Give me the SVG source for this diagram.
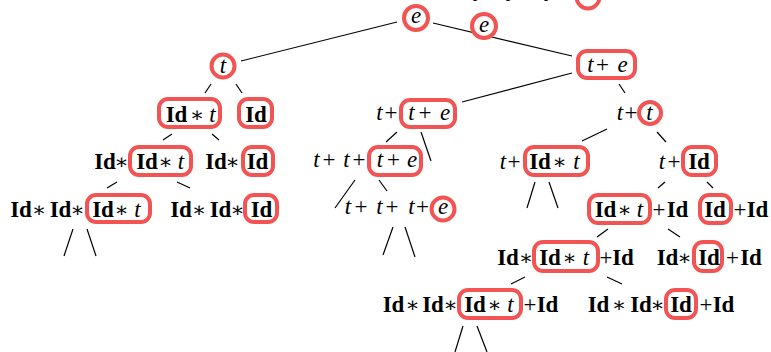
<svg xmlns="http://www.w3.org/2000/svg" width="771" height="352" viewBox="0 0 771 352">
<style>
.bg{fill:#ffffff}
.hl{fill:#ffffff;stroke:#f25454;stroke-width:4}
.lbl{font-family:"Liberation Serif","DejaVu Serif",serif;font-size:23px;text-anchor:middle;fill:#000}
.b{font-weight:bold}
.i{font-style:italic}
.op{font-family:"DejaVu Serif","Liberation Serif",serif;font-size:21px}
#connectors line{stroke:#000;stroke-width:1.2;fill:none}
</style>
<rect class="bg" x="0" y="0" width="771" height="352"/>
<g id="connectors">
<line x1="241" y1="61" x2="397" y2="22"/>
<line x1="433" y1="23" x2="572" y2="56"/>
<line x1="572" y1="73" x2="462" y2="102"/>
<line x1="619" y1="84" x2="625" y2="93"/>
<line x1="205" y1="93" x2="211" y2="84"/>
<line x1="236" y1="84" x2="242" y2="93"/>
<line x1="163" y1="140" x2="172" y2="134"/>
<line x1="212" y1="134" x2="219" y2="140"/>
<line x1="397" y1="132" x2="386" y2="142"/>
<line x1="421" y1="132" x2="431" y2="161"/>
<line x1="607" y1="129" x2="582" y2="141"/>
<line x1="657" y1="132" x2="666" y2="142"/>
<line x1="107" y1="188" x2="117" y2="182"/>
<line x1="177" y1="182" x2="190" y2="188"/>
<line x1="355" y1="180" x2="335" y2="208"/>
<line x1="379" y1="180" x2="387" y2="191"/>
<line x1="535" y1="182" x2="527" y2="208"/>
<line x1="549" y1="182" x2="558" y2="208"/>
<line x1="665" y1="182" x2="658" y2="188"/>
<line x1="707" y1="182" x2="713" y2="188"/>
<line x1="73" y1="229" x2="64" y2="256"/>
<line x1="87" y1="229" x2="96" y2="256"/>
<line x1="393" y1="227" x2="383" y2="255"/>
<line x1="405" y1="227" x2="415" y2="257"/>
<line x1="608" y1="229" x2="597" y2="237"/>
<line x1="668" y1="229" x2="680" y2="237"/>
<line x1="525" y1="277" x2="511" y2="284"/>
<line x1="607" y1="277" x2="622" y2="284"/>
<line x1="463" y1="326" x2="455" y2="352"/>
<line x1="477" y1="326" x2="487" y2="352"/>
</g>

<g id="n-top-clipped">
<circle class="hl" cx="588" cy="-3" r="11.5"/>
<text class="lbl" y="1"><tspan class="i" x="475">t</tspan><tspan x="492">+</tspan><tspan class="i" x="508">t</tspan><tspan x="525">+</tspan><tspan class="i" x="546">t</tspan><tspan x="568">+</tspan></text>
</g>

<g id="n-e-root">
<circle class="hl" cx="416" cy="18" r="12"/>
<text class="lbl" y="23"><tspan class="i" x="416">e</tspan></text>
</g>

<g id="n-e-second">
<circle class="hl" cx="484" cy="26" r="12"/>
<text class="lbl" y="32"><tspan class="i" x="484">e</tspan></text>
</g>

<g id="n-t">
<circle class="hl" cx="223" cy="66" r="11.5"/>
<text class="lbl" y="73"><tspan class="i" x="223">t</tspan></text>
</g>

<g id="n-tpe">
<rect class="hl" x="578" y="51" width="57" height="27" rx="9"/>
<text class="lbl" y="72"><tspan class="i" x="590.5">t</tspan><tspan x="602.5">+</tspan><tspan class="i" x="622.5">e</tspan></text>
</g>

<g id="n-idxt-1">
<rect class="hl" x="159" y="99" width="61" height="28" rx="9"/>
<text class="lbl" y="122"><tspan class="b" x="176.5">Id</tspan><tspan class="op" x="197">∗</tspan><tspan class="i" x="212.5">t</tspan></text>
</g>

<g id="n-id-1">
<rect class="hl" x="239" y="99" width="33" height="28" rx="9"/>
<text class="lbl" y="122"><tspan class="b" x="256">Id</tspan></text>
</g>

<g id="n-t-tpe">
<rect class="hl" x="401" y="100" width="54" height="27" rx="9"/>
<text class="lbl" y="120"><tspan class="i" x="379.5">t</tspan><tspan x="391">+</tspan><tspan class="i" x="411.5">t</tspan><tspan x="425">+</tspan><tspan class="i" x="445">e</tspan></text>
</g>

<g id="n-t-t">
<circle class="hl" cx="650" cy="113" r="11"/>
<text class="lbl" y="120"><tspan class="i" x="620">t</tspan><tspan x="631">+</tspan><tspan class="i" x="649.5">t</tspan></text>
</g>

<g id="n-idxt-2">
<rect class="hl" x="130" y="147" width="61" height="28" rx="9"/>
<text class="lbl" y="169"><tspan class="b" x="105">Id</tspan><tspan class="op" x="121.5">∗</tspan><tspan class="b" x="147">Id</tspan><tspan class="op" x="165.5">∗</tspan><tspan class="i" x="181">t</tspan></text>
</g>

<g id="n-id-2">
<rect class="hl" x="243" y="147" width="30" height="28" rx="9"/>
<text class="lbl" y="169"><tspan class="b" x="216">Id</tspan><tspan class="op" x="232.5">∗</tspan><tspan class="b" x="257.5">Id</tspan></text>
</g>

<g id="n-t-t-tpe">
<rect class="hl" x="369" y="147" width="52" height="28" rx="9"/>
<text class="lbl" y="167"><tspan class="i" x="316.5">t</tspan><tspan x="329">+</tspan><tspan class="i" x="346.5">t</tspan><tspan x="359">+</tspan><tspan class="i" x="380">t</tspan><tspan x="393.5">+</tspan><tspan class="i" x="412">e</tspan></text>
</g>

<g id="n-t-idxt">
<rect class="hl" x="525" y="147" width="63" height="28" rx="9"/>
<text class="lbl" y="169"><tspan class="i" x="503">t</tspan><tspan x="514">+</tspan><tspan class="b" x="540">Id</tspan><tspan class="op" x="559.5">∗</tspan><tspan class="i" x="576.5">t</tspan></text>
</g>

<g id="n-t-id">
<rect class="hl" x="683" y="147" width="33" height="28" rx="9"/>
<text class="lbl" y="169"><tspan class="i" x="662">t</tspan><tspan x="674">+</tspan><tspan class="b" x="699">Id</tspan></text>
</g>

<g id="n-idxt-3">
<rect class="hl" x="87" y="195" width="63" height="27" rx="9"/>
<text class="lbl" y="217"><tspan class="b" x="21">Id</tspan><tspan class="op" x="39">∗</tspan><tspan class="b" x="60.5">Id</tspan><tspan class="op" x="77.5">∗</tspan><tspan class="b" x="103">Id</tspan><tspan class="op" x="121.5">∗</tspan><tspan class="i" x="137.5">t</tspan></text>
</g>

<g id="n-id-3">
<rect class="hl" x="245" y="195" width="32" height="27" rx="9"/>
<text class="lbl" y="217"><tspan class="b" x="181">Id</tspan><tspan class="op" x="199">∗</tspan><tspan class="b" x="220.5">Id</tspan><tspan class="op" x="237.5">∗</tspan><tspan class="b" x="261.5">Id</tspan></text>
</g>

<g id="n-t-t-t-e">
<circle class="hl" cx="443" cy="209" r="11.5"/>
<text class="lbl" y="214"><tspan class="i" x="348">t</tspan><tspan x="361">+</tspan><tspan class="i" x="379.5">t</tspan><tspan x="392">+</tspan><tspan class="i" x="411.5">t</tspan><tspan x="422.5">+</tspan><tspan class="i" x="443">e</tspan></text>
</g>

<g id="n-idxt-pid">
<rect class="hl" x="589" y="195" width="61" height="28" rx="9"/>
<text class="lbl" y="217"><tspan class="b" x="605.5">Id</tspan><tspan class="op" x="624.5">∗</tspan><tspan class="i" x="640">t</tspan><tspan x="659">+</tspan><tspan class="b" x="677.5">Id</tspan></text>
</g>

<g id="n-id-pid">
<rect class="hl" x="700" y="195" width="31" height="28" rx="9"/>
<text class="lbl" y="217"><tspan class="b" x="715">Id</tspan><tspan x="740">+</tspan><tspan class="b" x="757.5">Id</tspan></text>
</g>

<g id="n-id-idxt-pid">
<rect class="hl" x="534" y="242" width="64" height="29" rx="9"/>
<text class="lbl" y="265"><tspan class="b" x="508">Id</tspan><tspan class="op" x="526">∗</tspan><tspan class="b" x="550">Id</tspan><tspan class="op" x="569.5">∗</tspan><tspan class="i" x="586">t</tspan><tspan x="606">+</tspan><tspan class="b" x="623">Id</tspan></text>
</g>

<g id="n-id-id-pid">
<rect class="hl" x="694" y="242" width="28" height="29" rx="9"/>
<text class="lbl" y="265"><tspan class="b" x="667.5">Id</tspan><tspan class="op" x="684.5">∗</tspan><tspan class="b" x="709">Id</tspan><tspan x="732.5">+</tspan><tspan class="b" x="751">Id</tspan></text>
</g>

<g id="n-id-id-idxt-pid">
<rect class="hl" x="459" y="290" width="62" height="28" rx="9"/>
<text class="lbl" y="312"><tspan class="b" x="393.5">Id</tspan><tspan class="op" x="412.5">∗</tspan><tspan class="b" x="433">Id</tspan><tspan class="op" x="450.5">∗</tspan><tspan class="b" x="475">Id</tspan><tspan class="op" x="494.5">∗</tspan><tspan class="i" x="510.5">t</tspan><tspan x="530">+</tspan><tspan class="b" x="547.5">Id</tspan></text>
</g>

<g id="n-id-id-id-pid">
<rect class="hl" x="666" y="290" width="30" height="28" rx="9"/>
<text class="lbl" y="312"><tspan class="b" x="598.5">Id</tspan><tspan class="op" x="619">∗</tspan><tspan class="b" x="641">Id</tspan><tspan class="op" x="657.5">∗</tspan><tspan class="b" x="681">Id</tspan><tspan x="706">+</tspan><tspan class="b" x="723.5">Id</tspan></text>
</g>
</svg>
